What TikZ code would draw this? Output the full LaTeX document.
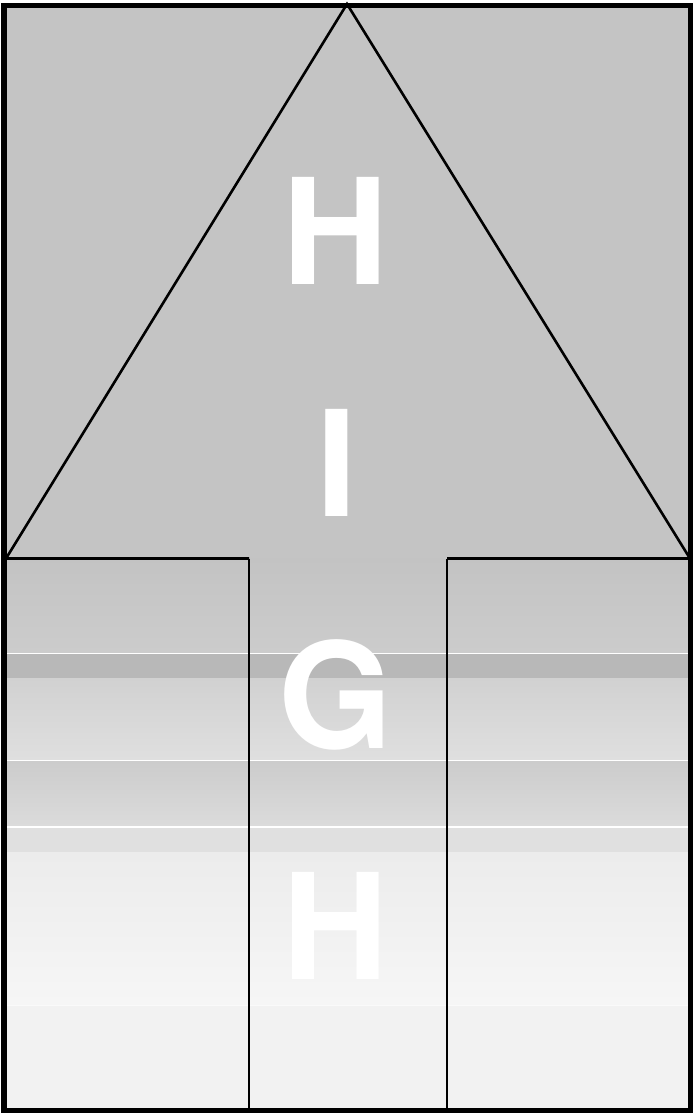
\documentclass[tikz,border=0pt]{standalone}
\usepackage{fontspec}
\newfontfamily\signfont{TeX Gyre Heros}
\usetikzlibrary{positioning}
\definecolor{signgray}{HTML}{C4C4C4}
\tikzset{
  band/.style    ={draw=none},
  seam/.style    ={draw=white, line width=1.2pt},
  outline/.style ={draw=black, line width=2.6pt, line join=miter},
  frame/.style   ={draw=black, line width=5.5pt},
  letter/.style  ={text=white, inner sep=0pt,
                   font=\signfont\bfseries\fontsize{147}{147}\selectfont},
}

\begin{document}
\begin{tikzpicture}[x=1pt, y=-1pt]
\useasboundingbox (0,0) rectangle (693,1114);

% ---- background bands ----
\fill[signgray] (4,5) rectangle (690,558);
\shade[band, top color=black!23.5, bottom color=black!20] (4,558) rectangle (690,653);
\fill[black!28] (4,654) rectangle (690,678);
\shade[band, top color=black!18, bottom color=black!12.5] (4,678) rectangle (690,760);
\shade[band, top color=black!20, bottom color=black!14] (4,761) rectangle (690,827);
\fill[black!12] (4,827) rectangle (690,852);
\shade[band, top color=black!7.5, bottom color=black!3.5] (4,852) rectangle (690,1005);
\fill[black!5] (4,1006) rectangle (690,1110);
\foreach \y in {653.5, 760.5, 827} \draw[seam] (4,\y) -- (690,\y);
\draw[seam, draw=white!60!black!5] (4,1005.5) -- (690,1005.5);

% ---- arrow ----
\coordinate (apex) at (347,4);
\coordinate (bl) at (6,558.5);
\coordinate (br) at (690,558.5);
\coordinate (sl) at (249,558.5);
\coordinate (sr) at (447,558.5);
\draw[outline] (sl) -- (bl) -- (apex) -- (br) -- (sr);
\draw[outline] (sl) -- (249,1110);
\draw[outline] (sr) -- (447,1110);

% ---- word ----
\node[letter] (h1) at (336,231) {H};
\node[letter] (i)  at (336.5,463) {I};
\node[letter] (g)  at (336,694.5) {G};
\node[letter] (h2) at (336,926) {H};

% ---- frame ----
\draw[frame] (4,5.5) rectangle (690.5,1110.5);

\end{tikzpicture}
\end{document}
